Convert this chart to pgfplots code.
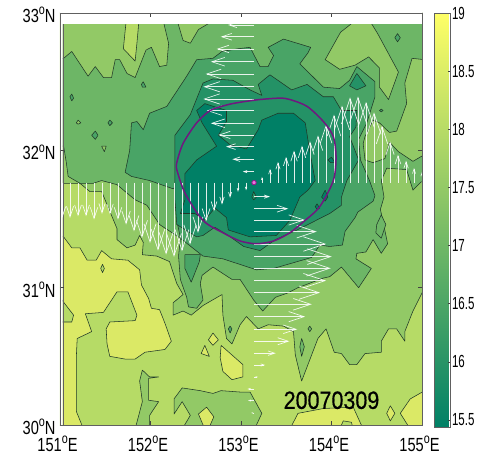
\documentclass[border=0pt]{standalone}
\usepackage{fontspec}
\setmainfont{Liberation Sans}
\newfontfamily\lab[FakeStretch=0.77]{Liberation Sans}
\newfontfamily\cbl[FakeStretch=0.66]{Liberation Sans}
\newfontfamily\stamp[FakeStretch=0.86,FakeBold=0.5]{Liberation Sans}
\newcommand{\dg}{\raisebox{0.42em}{\fontsize{14}{14}\selectfont o}}
\usepackage{pgfplots}
\pgfplotsset{compat=1.18}
\usetikzlibrary{arrows.meta}
\definecolor{LA}{HTML}{DBE966}
\definecolor{LB}{HTML}{B6DB66}
\definecolor{LC}{HTML}{92C966}
\definecolor{LD}{HTML}{6DB666}
\definecolor{LE}{HTML}{49A466}
\definecolor{LF}{HTML}{249266}
\definecolor{LG}{HTML}{008066}
\definecolor{cline}{HTML}{203828}
\definecolor{frm}{HTML}{606060}
\pgfplotsset{
  reg/.style={fill=#1,draw=cline,line width=0.55pt,no markers,line join=round},
}
\begin{document}
\begin{tikzpicture}
\path[use as bounding box] (-60pt,-30pt) rectangle (427pt,425pt);
\begin{axis}[
  scale only axis, width=362pt, height=412pt,
  xmin=151, xmax=155, ymin=30, ymax=33,
  axis on top,
  axis line style={draw=frm,line width=0.9pt},
  tick style={draw=frm!70!black,line width=0.6pt},
  tick align=inside, major tick length=4pt,
  xtick={151,152,153,154,155}, ytick={30,31,32,33},
  xticklabels={151\dg E,152\dg E,153\dg E,154\dg E,155\dg E},
  yticklabels={30\dg N,31\dg N,32\dg N,33\dg N},
  xticklabel style={font=\fontsize{19}{19}\lab,xshift=-2.5pt,yshift=-11pt,inner sep=0pt},
  yticklabel style={font=\fontsize{19}{19}\lab,yshift=-2pt,xshift=-4.3pt,inner sep=0pt},
  point meta min=0, point meta max=100,
]
% 18--18.5 band: background
\addplot[reg=LB] coordinates {(150.9,29.9)(155.1,29.9)(155.1,33.1)(150.9,33.1)(150.9,29.9)};
% 18.5--19 band
\addplot[reg=LA] coordinates {(151.01,31.37)(151.04,31.37)(151.13,31.29)(151.22,31.29)(151.30,31.20)(151.40,31.20)(151.46,31.27)(151.57,31.21)(151.75,31.20)(151.88,31.13)(151.90,31.02)(151.98,30.92)(152.01,30.85)(152.10,30.84)(152.16,30.74)(152.23,30.61)(152.16,30.55)(151.94,30.53)(151.83,30.48)(151.72,30.48)(151.55,30.50)(151.52,30.59)(151.51,30.70)(151.55,30.75)(151.83,30.76)(151.85,30.80)(151.75,30.97)(151.63,30.97)(151.48,30.82)(151.28,30.81)(151.35,30.68)(151.19,30.63)(151.18,30.49)(151.18,30.10)(151.26,29.97)(151.01,29.97)(151.01,30.75)(151.13,30.75)(151.15,30.80)(151.01,30.92)(151.01,31.37)};
\addplot[reg=LB] coordinates {(151.47,31.17)(151.49,31.14)(151.47,31.11)(151.45,31.14)(151.47,31.17)};
\addplot[reg=LA] coordinates {(152.69,30.67)(152.75,30.62)(152.69,30.58)(152.64,30.62)(152.69,30.67)};
\addplot[reg=LA] coordinates {(152.60,30.58)(152.65,30.50)(152.56,30.52)(152.60,30.58)};
\addplot[reg=LA] coordinates {(152.78,30.58)(153.02,30.44)(153.02,30.35)(152.90,30.33)(152.80,30.39)(152.77,30.49)(152.78,30.58)};
\addplot[reg=LA] coordinates {(153.54,29.97)(153.63,30.085)(153.91,30.12)(154.24,30.13)(154.35,29.97)(153.54,29.97)};
\addplot[reg=LB] coordinates {(154.09,29.97)(154.13,30.03)(154.22,30.02)(154.24,29.97)(154.09,29.97)};
\addplot[reg=LA] coordinates {(154.65,30.14)(154.70,30.085)(154.65,30.03)(154.61,30.085)(154.65,30.14)};
\addplot[reg=LA] coordinates {(155.03,30.25)(154.87,30.19)(154.76,30.085)(154.87,29.97)(155.03,29.97)(155.03,30.25)};
% 17.5--18 band
\addplot[reg=LC] coordinates {(151.91,30.40)(151.99,30.35)(152.09,30.35)(151.98,30.34)(151.98,30.18)(152.09,30.17)(151.99,30.07)(151.99,29.97)(151.83,29.97)(151.91,30.17)(151.88,30.32)(151.91,30.40)};
\addplot[reg=LC] coordinates {(152.26,30.19)(152.35,30.27)(152.55,30.25)(152.69,30.23)(152.78,30.25)(152.99,30.24)(153.10,30.24)(153.23,30.085)(153.15,29.97)(152.35,29.97)(152.44,30.07)(152.35,30.17)(152.26,30.08)(152.26,30.19)};
\addplot[reg=LA] coordinates {(152.62,30.13)(152.70,30.06)(152.64,29.97)(152.60,29.97)(152.53,30.08)(152.62,30.13)};
\addplot[reg=LC] coordinates {(151.01,31.76)(151.22,31.76)(151.33,31.70)(151.46,31.70)(151.63,31.43)(151.63,31.35)(151.74,31.29)(151.83,31.31)(151.88,31.38)(151.92,31.33)(151.91,31.24)(152.07,31.23)(152.21,31.19)(152.29,31.03)(152.36,30.95)(152.25,30.89)(152.25,30.80)(152.36,30.83)(152.45,30.80)(152.58,30.87)(152.79,30.95)(152.80,30.80)(152.84,30.63)(152.90,30.59)(152.99,30.73)(153.06,30.79)(153.19,30.70)(153.30,30.73)(153.47,30.72)(153.58,30.68)(153.60,30.51)(153.67,30.32)(153.85,30.63)(153.94,30.70)(154.03,30.53)(154.11,30.52)(154.20,30.44)(154.28,30.44)(154.37,30.52)(154.55,30.53)(154.55,30.61)(154.63,30.70)(154.72,30.70)(154.81,30.61)(154.81,30.68)(154.90,30.83)(155.03,31.00)(155.03,33.0)(151.01,33.0)(151.01,31.76)};
% 17--17.5 band
\addplot[reg=LD] coordinates {(151.01,32.03)(151.04,32.03)(151.07,31.91)(151.09,31.81)(151.22,31.76)(151.37,31.76)(151.46,31.78)(151.63,31.75)(151.72,31.70)(151.83,31.64)(151.96,31.60)(152.10,31.46)(152.33,31.36)(152.31,31.23)(152.33,31.06)(152.40,30.93)(152.42,30.86)(152.51,30.85)(152.58,30.91)(152.55,31.03)(152.57,31.09)(152.69,31.15)(152.90,31.06)(152.99,31.06)(153.14,30.91)(153.24,30.83)(153.38,30.93)(153.51,30.96)(153.63,31.00)(153.91,31.07)(153.98,31.08)(154.11,31.15)(154.30,31.00)(154.44,31.14)(154.27,31.21)(154.28,31.25)(154.38,31.26)(154.46,31.35)(154.55,31.25)(154.62,31.32)(154.57,31.48)(154.54,31.57)(154.58,31.66)(154.55,31.78)(154.61,31.87)(154.83,31.86)(154.90,31.71)(154.99,31.77)(155.03,31.77)(155.03,33.0)(151.01,33.0)(151.01,32.03)};
\addplot[reg=LD] coordinates {(153.67,30.63)(153.70,30.57)(153.67,30.50)(153.65,30.57)(153.67,30.63)};
\addplot[reg=LD] coordinates {(153.76,30.72)(153.78,30.70)(153.76,30.68)(153.74,30.70)(153.76,30.72)};
\addplot[reg=LD] coordinates {(154.55,31.53)(154.60,31.46)(154.55,31.36)(154.49,31.40)(154.50,31.46)(154.55,31.53)};
% 17.5--18 over the 17--17.5 band
\addplot[reg=LC] coordinates {(151.01,32.67)(151.04,32.67)(151.13,32.72)(151.31,32.54)(151.39,32.61)(151.48,32.53)(151.57,32.53)(151.61,32.66)(151.66,32.66)(151.74,32.56)(151.83,32.53)(151.95,32.73)(152.01,32.75)(152.10,32.61)(152.18,32.62)(152.20,32.78)(152.12,33.0)(151.01,33.0)(151.01,32.67)};
\addplot[reg=LB] coordinates {(151.74,33.0)(151.70,32.74)(151.83,32.65)(151.85,32.78)(151.88,33.0)(151.74,33.0)};
\addplot[reg=LC] coordinates {(152.27,33.0)(152.36,32.80)(152.44,32.78)(152.53,32.88)(152.84,33.0)(152.27,33.0)};
\addplot[reg=LC] coordinates {(154.10,32.86)(154.37,33.0)(154.51,32.85)(154.74,32.57)(154.63,32.37)(154.53,32.46)(154.53,32.60)(154.41,32.68)(154.26,32.62)(154.09,32.59)(153.93,32.66)(154.10,32.86)};
\addplot[reg=LC] coordinates {(155.03,32.66)(154.89,32.67)(154.81,32.49)(154.83,32.34)(154.72,32.14)(154.64,32.13)(154.53,32.20)(154.46,32.22)(154.37,32.10)(154.35,32.05)(154.37,31.93)(154.46,31.91)(154.59,31.94)(154.64,32.06)(154.74,31.99)(154.90,31.92)(155.03,31.97)(155.03,32.66)};
\addplot[reg=LC] coordinates {(151.20,32.22)(151.23,32.20)(151.20,32.19)(151.18,32.20)(151.20,32.22)};
\addplot[reg=LC] coordinates {(151.46,32.03)(151.51,32.03)(151.49,31.99)(151.46,32.03)};
% 16.5--17 band
\addplot[reg=LE] coordinates {(151.72,31.84)(151.77,32.00)(151.79,32.20)(151.85,32.21)(151.92,32.15)(151.99,32.27)(152.18,32.32)(152.40,32.54)(152.51,32.66)(152.69,32.67)(152.79,32.72)(152.97,32.74)(153.10,32.75)(153.21,32.61)(153.30,32.61)(153.36,32.69)(153.30,32.75)(153.47,32.81)(153.77,32.75)(153.74,32.71)(153.65,32.63)(153.91,32.46)(154.09,32.45)(154.20,32.51)(154.28,32.61)(154.48,32.50)(154.48,32.39)(154.39,32.20)(154.30,32.08)(154.32,31.93)(154.42,31.78)(154.48,31.67)(154.46,31.63)(154.29,31.55)(154.26,31.51)(154.15,31.41)(154.12,31.31)(153.98,31.30)(153.87,31.31)(153.78,31.22)(153.36,31.14)(153.17,31.13)(152.80,31.21)(152.58,31.23)(152.33,31.36)(152.30,31.46)(152.27,31.73)(152.25,31.72)(151.99,31.78)(151.79,31.81)(151.72,31.84)};
\addplot[reg=LE] coordinates {(152.38,31.24)(152.55,31.24)(152.54,31.19)(152.45,31.04)(152.38,31.14)(152.38,31.24)};
\addplot[reg=LE] coordinates {(151.92,32.50)(151.95,32.46)(151.91,32.46)(151.90,32.48)(151.92,32.50)};
\addplot[reg=LE] coordinates {(151.13,32.41)(151.15,32.38)(151.13,32.36)(151.11,32.39)(151.13,32.41)};
\addplot[reg=LE] coordinates {(151.55,32.22)(151.58,32.20)(151.55,32.18)(151.53,32.20)(151.55,32.22)};
\addplot[reg=LE] coordinates {(151.39,32.14)(151.42,32.11)(151.39,32.08)(151.35,32.11)(151.39,32.14)};
\addplot[reg=LE] coordinates {(154.73,32.85)(154.76,32.82)(154.73,32.79)(154.70,32.82)(154.73,32.85)};
\addplot[reg=LE] coordinates {(154.55,32.30)(154.57,32.29)(154.55,32.28)(154.53,32.29)(154.55,32.30)};
\addplot[reg=LE] coordinates {(152.88,30.72)(152.90,30.70)(152.88,30.67)(152.86,30.70)(152.88,30.72)};
% 16--16.5 band
\addplot[reg=LF] coordinates {(152.27,32.11)(152.27,31.64)(152.29,31.46)(152.51,31.37)(152.58,31.38)(152.71,31.44)(152.86,31.38)(153.03,31.30)(153.21,31.27)(153.38,31.35)(153.62,31.42)(153.98,31.54)(154.11,31.60)(154.11,31.66)(154.17,31.78)(154.30,31.93)(154.20,32.10)(154.27,32.17)(154.28,32.29)(154.11,32.29)(154.02,32.39)(153.91,32.39)(153.73,32.48)(153.56,32.44)(153.32,32.55)(153.19,32.48)(153.23,32.40)(153.10,32.44)(152.91,32.51)(152.69,32.52)(152.58,32.49)(152.44,32.26)(152.27,32.11)};
\addplot[reg=LF] coordinates {(154.28,32.56)(154.38,32.47)(154.28,32.44)(154.20,32.47)(154.28,32.56)};
% 15.5--16 band
\addplot[reg=LG] coordinates {(152.51,32.29)(152.60,32.34)(152.84,32.29)(152.84,32.21)(152.75,32.11)(152.88,32.04)(153.06,32.01)(153.19,32.15)(153.23,32.22)(153.41,32.27)(153.58,32.27)(153.71,32.20)(153.76,31.99)(153.82,31.78)(153.74,31.71)(153.65,31.66)(153.54,31.49)(153.39,31.38)(153.10,31.37)(152.86,31.42)(152.84,31.51)(152.71,31.58)(152.60,31.49)(152.49,31.54)(152.33,31.54)(152.38,31.64)(152.38,31.83)(152.51,31.93)(152.73,32.03)(152.57,32.20)(152.51,32.29)};
\addplot[reg=LG] coordinates {(153.96,31.93)(154.00,31.95)(154.04,31.91)(153.99,31.91)(153.96,31.93)};
\addplot[reg=LG] coordinates {(153.93,31.71)(153.96,31.66)(153.93,31.63)(153.89,31.66)(153.93,31.71)};
\addplot[reg=LG] coordinates {(153.84,31.61)(153.87,31.58)(153.84,31.57)(153.82,31.59)(153.84,31.61)};
\addplot[reg=LF] coordinates {(153.14,31.70)(153.17,31.66)(153.14,31.64)(153.12,31.66)(153.14,31.70)};
% white margin inside the frame
\addplot[fill=white,draw=none,no markers] coordinates {(150.9,32.92)(155.1,32.92)(155.1,33.1)(150.9,33.1)(150.9,32.92)};
\addplot[fill=white,draw=none,no markers] coordinates {(150.9,29.9)(151.03,29.9)(151.03,33.1)(150.9,33.1)(150.9,29.9)};
\addplot[draw=frm,line width=1.4pt,no markers] coordinates {(151.036,30)(151.036,32.92)};
% wind vectors across the eddy centre
\addplot[white,opacity=0.88,line width=0.7pt,
  quiver={u=\thisrow{u},v=\thisrow{v},
    every arrow/.append style={-{Straight Barb[length=0.03pt*\pgfplotspointmetatransformed,width=0.02pt*\pgfplotspointmetatransformed]}}},
  point meta=\thisrow{m}] table {
lon lat u v m
153.144 32.913 -0.287 0 26
153.144 32.827 -0.368 0 33
153.144 32.738 -0.412 0 37
153.144 32.645 -0.478 0 43
153.144 32.556 -0.534 0 48
153.144 32.463 -0.560 0 51
153.144 32.374 -0.560 0 51
153.144 32.289 -0.523 0 47
153.144 32.197 -0.478 0 43
153.144 32.112 -0.394 0 36
153.144 32.027 -0.309 0 28
153.144 31.935 -0.240 0 22
153.144 31.845 -0.125 0 11
153.144 31.663 0.177 0 16
153.144 31.575 0.379 0 34
153.144 31.493 0.564 0 51
153.144 31.408 0.693 0 63
153.144 31.318 0.796 0 72
153.144 31.226 0.859 0 78
153.144 31.141 0.848 0 77
153.144 31.051 0.796 0 72
153.144 30.964 0.729 0 66
153.144 30.879 0.638 0 58
153.144 30.789 0.564 0 51
153.144 30.697 0.478 0 43
153.144 30.610 0.390 0 35
153.144 30.523 0.240 0 22
153.144 30.437 0.122 0 11
153.144 30.350 0.044 0 4
153.144 30.262 -0.074 0 7
153.144 30.178 -0.066 0 6
153.144 30.088 -0.033 0 3
153.232 31.765 0 0.042 6
153.321 31.765 0 0.100 14
153.409 31.765 0 0.151 21
153.498 31.765 0 0.187 26
153.586 31.765 0 0.233 32
153.674 31.765 0 0.269 37
153.763 31.765 0 0.301 41
153.851 31.765 0 0.344 47
153.940 31.765 0 0.422 58
154.028 31.765 0 0.495 68
154.116 31.765 0 0.561 77
154.205 31.765 0 0.621 85
154.293 31.765 0 0.628 86
154.382 31.765 0 0.588 81
154.470 31.765 0 0.512 70
154.558 31.765 0 0.415 57
154.647 31.765 0 0.301 41
154.735 31.765 0 0.204 28
154.824 31.765 0 0.160 22
154.912 31.765 0 0.107 15
155.000 31.765 0 0.078 11
153.056 31.765 0 -0.056 8
152.967 31.765 0 -0.068 9
152.879 31.765 0 -0.111 15
152.790 31.765 0 -0.160 22
152.702 31.765 0 -0.209 29
152.614 31.765 0 -0.282 39
152.525 31.765 0 -0.366 50
152.437 31.765 0 -0.451 62
152.348 31.765 0 -0.500 69
152.260 31.765 0 -0.541 74
152.172 31.765 0 -0.524 72
152.083 31.765 0 -0.495 68
151.995 31.765 0 -0.439 60
151.906 31.765 0 -0.403 55
151.818 31.765 0 -0.355 49
151.730 31.765 0 -0.306 42
151.641 31.765 0 -0.269 37
151.553 31.765 0 -0.233 32
151.464 31.765 0 -0.228 31
151.376 31.765 0 -0.269 37
151.288 31.765 0 -0.245 34
151.199 31.765 0 -0.245 34
151.111 31.765 0 -0.257 35
151.022 31.765 0 -0.262 36
};
% eddy edge
\addplot[draw={rgb,255:red,112;green,24;blue,128},line width=1.5pt,no markers,smooth,tension=0.5] coordinates {(152.29,31.86)(152.38,31.69)(152.58,31.49)(152.80,31.40)(152.99,31.34)(153.17,31.32)(153.36,31.34)(153.54,31.40)(153.69,31.48)(153.87,31.59)(154.02,31.78)(154.05,31.95)(154.02,32.10)(153.91,32.21)(153.73,32.32)(153.54,32.37)(153.43,32.38)(153.21,32.37)(152.99,32.35)(152.84,32.33)(152.66,32.29)(152.51,32.20)(152.36,32.05)(152.29,31.91)(152.29,31.86)};
% eddy centre
\addplot[only marks,mark=*,mark size=2.2pt,mark options={draw={rgb,255:red,150;green,20;blue,140},fill={rgb,255:red,230;green,120;blue,220},line width=0.8pt}] coordinates {(153.144,31.765)};
\node[font=\fontsize{25}{25}\stamp,text=black] at (axis cs:154.0,30.18) {20070309};
\end{axis}
% colour bar
\begin{axis}[
  scale only axis, width=362pt, height=412pt, hide axis,
  xmin=0,xmax=1,ymin=0,ymax=1,
  colormap={summer}{rgb255=(0,128,102) rgb255=(255,255,102)},
  point meta min=15.44, point meta max=19,
  colorbar,
  colorbar style={
    at={(parent axis.north east)},anchor=north west,xshift=4pt,
    width=16pt,height=414pt,
    ytick={15.5,16,16.5,17,17.5,18,18.5,19},
    yticklabels={15.5,16,16.5,17,17.5,18,18.5,19},
    ytick pos=right, yticklabel pos=right,
    tick align=inside, major tick length=3pt,
    axis line style={draw=frm,line width=0.6pt},
    tick style={draw=frm!70!black,line width=0.6pt},
    yticklabel style={font=\fontsize{17.5}{17.5}\cbl,xshift=-2pt},
  },
]
\addplot[draw=none] coordinates {(0,0)};
\end{axis}
\end{tikzpicture}
\end{document}
